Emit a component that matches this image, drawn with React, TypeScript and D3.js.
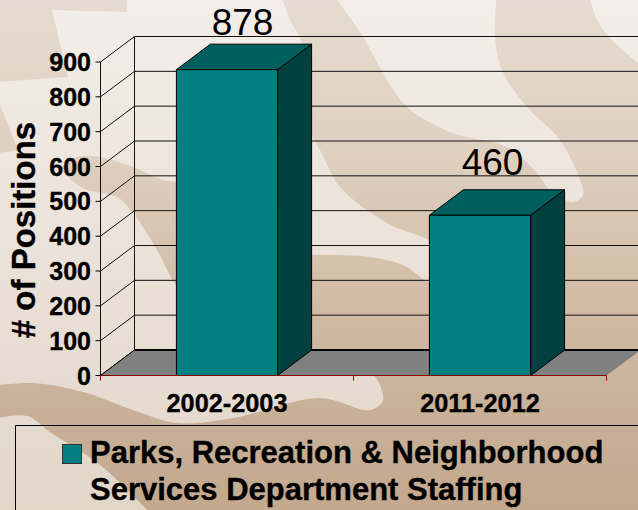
import React from "react";
import * as d3 from "d3";

// Staffing figures for the two fiscal years
const categories = ["2002-2003", "2011-2012"];
const positions = [878, 460];
const yTicks = [0, 100, 200, 300, 400, 500, 600, 700, 800, 900];
const legendLines = ["Parks, Recreation & Neighborhood", "Services Department Staffing"];

const FONT = "'Liberation Sans', Arial, sans-serif";
const W = 638;
const H = 510;

// Oblique depth of the 3D plot box
const DX = 34;
const DY = -25.5;

const x = d3.scaleBand<string>().domain(categories).range([100.5, 606.5]).paddingInner(0.6).paddingOuter(0.3);
const y = d3.scaleLinear().domain([0, 900]).range([375.5, 62]);

// Backdrop: pale swirl shapes laid over a tan field
const curve = d3.line().curve(d3.curveCatmullRom.alpha(0.5));

const paleUpperLeft: [number, number][] = [
  [-10, 386], [33, 383], [83, 392], [133, 410], [177, 423], [233, 418], [320, 398], [370, 410], [383, 400], [370, 372],
  [300, 365], [220, 330], [176, 285], [157, 250], [133, 213], [117, 197], [83, 188], [62, 168], [77, 157], [100, 157],
  [133, 167], [176, 182], [240, 160], [295, 110], [303, 50], [290, 20], [275, -6], [-10, -6]
];
const paleWedge: [number, number][] = [
  [300, 115], [320, 150], [340, 187], [387, 223], [432, 242], [450, 262], [432, 282], [403, 265], [370, 257], [320, 255], [295, 255]
];
const paleBand: [number, number][] = [
  [333, -6], [363, 37], [383, 73], [407, 107], [453, 133], [507, 147], [537, 173], [550, 190], [573, 202], [583, 195],
  [580, 180], [560, 140], [527, 107], [502, 70], [495, 37], [497, -6]
];
const paleCorner: [number, number][] = [
  [589, -6], [597, 20], [610, 38], [638, 63], [650, 72], [650, -6]
];
const paleLowerLeft: [number, number][] = [
  [-10, 420], [27, 416], [50, 432], [100, 465], [147, 510], [155, 520], [-10, 520]
];
const paleShapes = [paleUpperLeft, paleWedge, paleBand, paleCorner, paleLowerLeft];

function App() {
  const bars = categories.map((c, i) => {
    const left = x(c)!;
    const right = left + x.bandwidth();
    const top = y(positions[i]);
    const base = y(0);
    return { c, v: positions[i], left, right, top, base, i };
  });

  const right = x.range()[1];
  const left = x.range()[0];
  const floorFront = y(0);
  const poly = (pts: [number, number][]) => pts.map((p) => p.join(",")).join(" ");
  const heavy = { stroke: "#000", strokeWidth: 0.35 };

  return (
    <svg
      width={W}
      height={H}
      viewBox={`0 0 ${W} ${H}`}
      style={{ position: "absolute", left: 0, top: 0, display: "block" }}
      fontFamily={FONT}
    >
      <defs>
        <linearGradient id="pale" gradientUnits="userSpaceOnUse" x1="0" y1="0" x2="0" y2={H}>
          <stop offset="0" stopColor="#f3eee9" />
          <stop offset="0.6" stopColor="#e9dfd5" />
          <stop offset="1" stopColor="#e2d6c9" />
        </linearGradient>
        <linearGradient id="tan" gradientUnits="userSpaceOnUse" x1="0" y1="0" x2="0" y2={H}>
          <stop offset="0" stopColor="#e5dbd0" />
          <stop offset="0.3" stopColor="#dfd0c0" />
          <stop offset="0.6" stopColor="#d1bba4" />
          <stop offset="0.78" stopColor="#c9b29a" />
          <stop offset="1" stopColor="#c3a88d" />
        </linearGradient>
      </defs>

      <rect width={W} height={H} fill="url(#tan)" />
      {paleShapes.map((s, i) => (
        <path key={i} d={curve(s)! + "Z"} fill="url(#pale)" />
      ))}
      <polygon points="-2,-2 127,-2 127,12 52,10 68,77 -2,82" fill="url(#tan)" />
      <polygon points="-2,100 18,150 -2,153" fill="url(#tan)" />

      {/* Side wall and back wall gridlines */}
      <g stroke="#111" strokeWidth={1} fill="none">
        {yTicks.map((t) => (
          <line key={t} x1={left} y1={y(t)} x2={left + DX} y2={y(t) + DY} />
        ))}
        {yTicks.slice(1).map((t) => (
          <line key={t} x1={left + DX} y1={y(t) + DY} x2={W} y2={y(t) + DY} />
        ))}
        <line x1={left} y1={y(900)} x2={left} y2={y(0)} />
        <line x1={left + DX} y1={y(900) + DY} x2={left + DX} y2={y(0) + DY} />
      </g>

      {/* Floor */}
      <polygon
        points={poly([
          [left, floorFront],
          [left + DX, floorFront + DY],
          [right + DX, floorFront + DY],
          [right, floorFront],
        ])}
        fill="#808080"
      />
      <line x1={left + DX} y1={floorFront + DY} x2={W} y2={floorFront + DY} stroke="#000" strokeWidth={2} />
      <line x1={left} y1={floorFront} x2={left + DX} y2={floorFront + DY} stroke="#000" strokeWidth={1} />

      {/* Value axis ticks and labels */}
      {yTicks.map((t) => (
        <g key={t}>
          <line x1={left - 5} y1={y(t)} x2={left} y2={y(t)} stroke="#000" />
          <text x={91} y={y(t) + 9} textAnchor="end" fontSize={25} fontWeight="bold" fill="#000" {...heavy}>
            {t}
          </text>
        </g>
      ))}

      {/* Category axis */}
      <line x1={left} y1={floorFront} x2={right} y2={floorFront} stroke="#8b0000" strokeWidth={1} />
      {[left, (left + right) / 2, right].map((tx) => (
        <line key={tx} x1={tx} y1={floorFront} x2={tx} y2={floorFront + 5} stroke="#8b0000" strokeWidth={1} />
      ))}

      {/* Bars */}
      {bars.map((b) => (
        <g key={b.c} stroke="#000" strokeWidth={1} strokeLinejoin="round">
          <polygon
            points={poly([
              [b.right, b.top],
              [b.right + DX, b.top + DY],
              [b.right + DX, b.base + DY],
              [b.right, b.base],
            ])}
            fill="#004040"
          />
          <polygon
            points={poly([
              [b.left, b.top],
              [b.left + DX, b.top + DY],
              [b.right + DX, b.top + DY],
              [b.right, b.top],
            ])}
            fill="#006060"
          />
          <rect x={b.left} y={b.top} width={b.right - b.left} height={b.base - b.top} fill="#008080" />
          <line x1={b.left} y1={b.base} x2={b.right} y2={b.base} stroke="#8b0000" />
        </g>
      ))}

      {/* Value labels */}
      {bars.map((b) => (
        <text
          key={b.c}
          x={(b.left + b.right) / 2 + (b.i === 0 ? 15.5 : 12.5)}
          y={b.top - (b.i === 0 ? 34.5 : 40.5)}
          textAnchor="middle"
          fontSize={37}
          fill="#000"
        >
          {b.v}
        </text>
      ))}

      {/* Category labels */}
      {bars.map((b) => (
        <text
          key={b.c}
          x={(b.left + b.right) / 2}
          y={411.5}
          textAnchor="middle"
          fontSize={25.3}
          fontWeight="bold"
          fill="#000"
          {...heavy}
        >
          {b.c}
        </text>
      ))}

      {/* Axis title */}
      <text
        transform="translate(35,230) rotate(-90)"
        textAnchor="middle"
        fontSize={33}
        fontWeight="bold"
        fill="#000"
        {...heavy}
      >
        # of Positions
      </text>

      {/* Legend */}
      <path d={`M15.5,${H} V425.5 H${W}`} fill="none" stroke="#000" strokeWidth={1} />
      <rect x={62.5} y={444.5} width={19} height={19} fill="#008080" stroke="#333" strokeWidth={1} />
      {legendLines.map((l, i) => (
        <text key={l} x={90} y={463 + i * 36.5} fontSize={31} fontWeight="bold" fill="#000" {...heavy}>
          {l}
        </text>
      ))}
    </svg>
  );
}

export default App;
